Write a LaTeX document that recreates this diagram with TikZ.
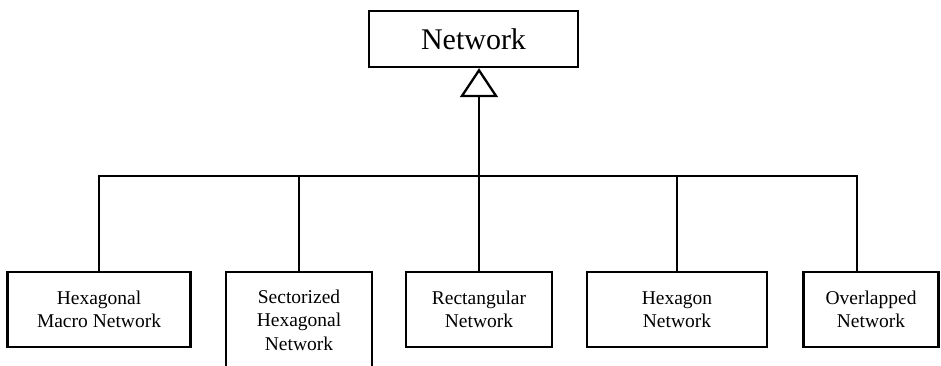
\documentclass[tikz,border=0pt]{standalone}
\usepackage{fontspec}
\setmainfont{Liberation Serif}
\usetikzlibrary{arrows.meta}
\begin{document}
\begin{tikzpicture}[x=1pt,y=-1pt,
  box/.style={draw, line width=2.4pt, inner sep=0pt, align=center,
    font=\fontsize{19.5}{23.5}\selectfont},
  rootbox/.style={draw, line width=2.4pt, inner sep=0pt,
    minimum width=209pt, minimum height=56pt,
    font=\fontsize{30}{34}\selectfont},
  link/.style={line width=2.3pt},
  inherit/.style={link, -{Triangle[open, length=29pt, width=38pt, line width=2.3pt]}}
]
\useasboundingbox (0,0) rectangle (941,365);
\clip (0,0) rectangle (941,365);

% root class
\node[rootbox] (net) at (473.5,39) {Network};

% subclasses
\node[box, minimum width=183pt, minimum height=75pt] (hexmacro) at (99,309.5)
  {Hexagonal\\Macro Network};
\node[box, minimum width=146pt, minimum height=96pt] (sector) at (299,320)
  {Sectorized\\Hexagonal\\Network};
\node[box, minimum width=146pt, minimum height=75pt] (rect) at (479,309.5)
  {Rectangular\\Network};
\node[box, minimum width=180pt, minimum height=75pt] (hexagon) at (677,309.5)
  {Hexagon\\Network};
\node[box, minimum width=135pt, minimum height=75pt] (overlap) at (871,309.5)
  {Overlapped\\Network};

% generalisation tree
\coordinate (hub) at (479,176);
\coordinate (ovdrop) at (857,272);
\draw[link] (hexmacro.north) |- (hub);
\draw[link] (sector.north) |- (hub);
\draw[link] (rect.north) -- (hub);
\draw[link] (hexagon.north) |- (hub);
\draw[link] (ovdrop) |- (hub);
\draw[inherit] (hub) -- (net.south -| hub);
\end{tikzpicture}
\end{document}
